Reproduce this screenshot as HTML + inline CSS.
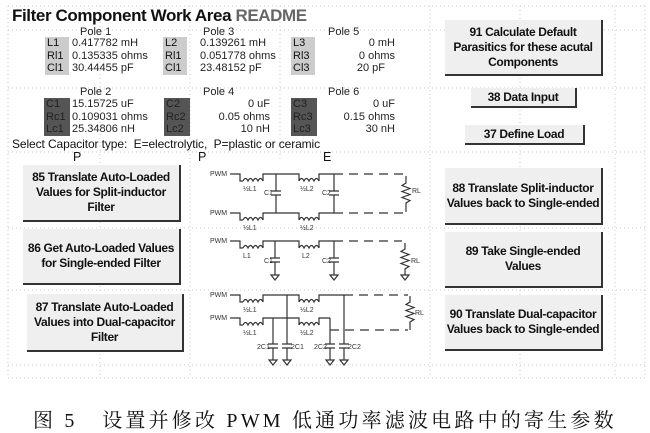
<!DOCTYPE html>
<html><head><meta charset="utf-8"><style>
body{margin:0;width:650px;height:433px;background:#fff;position:relative;overflow:hidden;font-family:"Liberation Sans",sans-serif;color:#111}
.a{position:absolute;white-space:nowrap}
.v{font-size:11px;color:#222}
.lb{position:absolute;width:24px;height:13px;background:#ccc;font-size:11px;line-height:13px;padding-left:2px;box-sizing:border-box}
.db{position:absolute;width:26px;height:13px;background:#555;color:#222;font-size:11px;line-height:13px;padding-left:2px;box-sizing:border-box}
.btn{position:absolute;background:#efefef;border-right:2px solid #333;border-bottom:2px solid #333;box-sizing:border-box;display:flex;align-items:center;justify-content:center;text-align:center;font-weight:bold;font-size:12px;letter-spacing:-0.35px;line-height:15px;color:#111;white-space:nowrap}
</style></head><body>
<svg class="a" style="left:0;top:0" width="650" height="433">
<g stroke="#c8c8c8" stroke-width="1" stroke-dasharray="1 3">
<line x1="8" y1="6" x2="645" y2="6"/><line x1="8" y1="378" x2="645" y2="378"/>
<line x1="8" y1="30" x2="645" y2="30"/><line x1="8" y1="88" x2="645" y2="88"/>
<line x1="8" y1="152" x2="645" y2="152"/><line x1="8" y1="228" x2="645" y2="228"/>
<line x1="8" y1="290" x2="645" y2="290"/><line x1="8" y1="365" x2="645" y2="365"/>
<line x1="8" y1="6" x2="8" y2="378"/><line x1="100" y1="6" x2="100" y2="378"/>
<line x1="190" y1="6" x2="190" y2="378"/><line x1="280" y1="6" x2="280" y2="160"/>
<line x1="430" y1="6" x2="430" y2="378"/><line x1="520" y1="6" x2="520" y2="378"/>
<line x1="615" y1="6" x2="615" y2="378"/><line x1="645" y1="6" x2="645" y2="378"/>
</g>
<g fill="none" stroke="#333" stroke-width="1.2">
<path d="M230 174H240V181H243"/><path d="M243 181q2.5 -5 5 0q2.5 -5 5 0q2.5 -5 5 0q2.5 -5 5 0"/><path d="M263 181V174H299V181"/>
<path d="M299 181q2.5 -5 5 0q2.5 -5 5 0q2.5 -5 5 0q2.5 -5 5 0"/><path d="M319 181V174H334"/>
<path d="M230 213H240V220H243"/><path d="M243 220q2.5 -5 5 0q2.5 -5 5 0q2.5 -5 5 0q2.5 -5 5 0"/><path d="M263 220V213H299V220"/>
<path d="M299 220q2.5 -5 5 0q2.5 -5 5 0q2.5 -5 5 0q2.5 -5 5 0"/><path d="M319 220V213H334"/>
<path d="M276 174V191M276 195V213M271 191H281M271 195H281"/>
<path d="M334 174V191M334 195V213M329 191H339M329 195H339"/>
<path d="M334 174H405M334 213H405" stroke-dasharray="9 6"/>
<path d="M406 176V183l-4 2.5 8 3 -8 3 8 3 -8 3 8 3 -4 2.5V212"/>
<path d="M230 241H240V248H243"/><path d="M243 248q2.5 -5 5 0q2.5 -5 5 0q2.5 -5 5 0q2.5 -5 5 0"/><path d="M263 248V241H299V248"/>
<path d="M299 248q2.5 -5 5 0q2.5 -5 5 0q2.5 -5 5 0q2.5 -5 5 0"/><path d="M319 248V241H334"/>
<path d="M275 241V258M275 262V275M270 258H280M270 262H280M271 275H279L275 280Z"/>
<path d="M334 241V258M334 262V275M329 258H339M329 262H339M330 275H338L334 280Z"/>
<path d="M334 241H402" stroke-dasharray="9 6"/>
<path d="M405 243V249l-4 2.5 8 3 -8 3 8 3 -8 3 8 3 -4 2.5V275M401 275H409L405 280Z"/>
<path d="M230 295H240V302H243"/><path d="M243 302q2.5 -5 5 0q2.5 -5 5 0q2.5 -5 5 0q2.5 -5 5 0"/><path d="M263 302V295H299V302"/>
<path d="M299 302q2.5 -5 5 0q2.5 -5 5 0q2.5 -5 5 0q2.5 -5 5 0"/><path d="M319 302V295H344"/>
<path d="M230 318H240V325H243"/><path d="M243 325q2.5 -5 5 0q2.5 -5 5 0q2.5 -5 5 0q2.5 -5 5 0"/><path d="M263 325V318H299V325"/>
<path d="M299 325q2.5 -5 5 0q2.5 -5 5 0q2.5 -5 5 0q2.5 -5 5 0"/><path d="M319 325V318H330"/>
<path d="M273 318V344M273 348V360M268 344H278M268 348H278M269 360H277L273 365Z"/>
<path d="M287 295V344M287 348V360M282 344H292M282 348H292M283 360H291L287 365Z"/>
<path d="M330 318V344M330 348V360M325 344H335M325 348H335M326 360H334L330 365Z"/>
<path d="M344 295V344M344 348V360M339 344H349M339 348H349M340 360H348L344 365Z"/>
<path d="M344 295H408M330 330H408" stroke-dasharray="9 6"/>
<path d="M410 296V302l-4 2.5 8 3 -8 3 8 3 -8 3 8 3 -4 2.5V330"/>
</g>
<g font-family="Liberation Sans,sans-serif" font-size="7" fill="#333">
<text x="210" y="176">PWM</text><text x="210" y="215">PWM</text><text x="210" y="243">PWM</text><text x="210" y="297">PWM</text><text x="210" y="320">PWM</text>
<text x="243" y="191">½L1</text><text x="300" y="191">½L2</text><text x="243" y="230">½L1</text><text x="300" y="230">½L2</text>
<text x="264" y="195">C1</text><text x="322" y="195">C2</text>
<text x="243" y="258">L1</text><text x="302" y="258">L2</text><text x="264" y="263">C1</text><text x="322" y="263">C2</text>
<text x="243" y="312">½L1</text><text x="300" y="312">½L2</text><text x="243" y="335">½L1</text><text x="300" y="335">½L2</text>
<text x="257" y="349">2C1</text><text x="291" y="349">2C1</text><text x="314" y="349">2C2</text><text x="348" y="349">2C2</text>
<text x="412" y="193">RL</text><text x="411" y="263">RL</text><text x="415" y="315">RL</text>
</g>
</svg>

<div class="a" style="left:12px;top:6px;font-size:17px;letter-spacing:-0.4px;font-weight:bold">Filter Component Work Area <span style="color:#666">README</span></div>

<div class="a v" style="left:80px;top:26px">Pole 1</div><div class="a v" style="left:203px;top:26px">Pole 3</div><div class="a v" style="left:328px;top:26px">Pole 5</div>
<div class="lb" style="left:45px;top:37px">L1</div><div class="lb" style="left:45px;top:50px">Rl1</div><div class="lb" style="left:45px;top:62px">Cl1</div>
<div class="a v" style="left:72px;top:37px">0.417782 mH</div><div class="a v" style="left:72px;top:50px">0.135335 ohms</div><div class="a v" style="left:72px;top:62px">30.44455 pF</div>
<div class="lb" style="left:163px;top:37px">L2</div><div class="lb" style="left:163px;top:50px">Rl1</div><div class="lb" style="left:163px;top:62px">Cl1</div>
<div class="a v" style="left:200px;top:37px">0.139261 mH</div><div class="a v" style="left:200px;top:50px">0.051778 ohms</div><div class="a v" style="left:200px;top:62px">23.48152 pF</div>
<div class="lb" style="left:291px;top:37px">L3</div><div class="lb" style="left:291px;top:50px">Rl3</div><div class="lb" style="left:291px;top:62px">Cl3</div>
<div class="a v" style="right:255px;top:37px">0 mH</div><div class="a v" style="right:255px;top:50px">0 ohms</div><div class="a v" style="right:265px;top:62px">20 pF</div>

<div class="a v" style="left:80px;top:86px">Pole 2</div><div class="a v" style="left:203px;top:86px">Pole 4</div><div class="a v" style="left:328px;top:86px">Pole 6</div>
<div class="db" style="left:44px;top:98px">C1</div><div class="db" style="left:44px;top:111px">Rc1</div><div class="db" style="left:44px;top:123px">Lc1</div>
<div class="a v" style="left:72px;top:98px">15.15725 uF</div><div class="a v" style="left:72px;top:111px">0.109031 ohms</div><div class="a v" style="left:72px;top:123px">25.34806 nH</div>
<div class="db" style="left:164px;top:98px">C2</div><div class="db" style="left:164px;top:111px">Rc2</div><div class="db" style="left:164px;top:123px">Lc2</div>
<div class="a v" style="right:380px;top:98px">0 uF</div><div class="a v" style="right:380px;top:111px">0.05 ohms</div><div class="a v" style="right:380px;top:123px">10 nH</div>
<div class="db" style="left:291px;top:98px">C3</div><div class="db" style="left:291px;top:111px">Rc3</div><div class="db" style="left:291px;top:123px">Lc3</div>
<div class="a v" style="right:255px;top:98px">0 uF</div><div class="a v" style="right:255px;top:111px">0.15 ohms</div><div class="a v" style="right:255px;top:123px">30 nH</div>

<div class="a" style="left:12px;top:137px;font-size:12px;letter-spacing:-0.1px">Select Capacitor type:&nbsp; E=electrolytic,&nbsp; P=plastic or ceramic</div>
<div class="a" style="left:73px;top:150px;font-size:12.5px">P</div><div class="a" style="left:198px;top:150px;font-size:12.5px">P</div><div class="a" style="left:323px;top:150px;font-size:12.5px">E</div>

<div class="btn" style="left:23px;top:165px;width:158px;height:57px">85 Translate Auto-Loaded<br>Values for Split-inductor<br>Filter</div>
<div class="btn" style="left:23px;top:229px;width:158px;height:56px">86 Get Auto-Loaded Values<br>for Single-ended Filter</div>
<div class="btn" style="left:27px;top:294px;width:157px;height:58px">87 Translate Auto-Loaded<br>Values into Dual-capacitor<br>Filter</div>

<div class="btn" style="left:445px;top:20px;width:158px;height:56px">91 Calculate Default<br>Parasitics for these acutal<br>Components</div>
<div class="btn" style="left:471px;top:88px;width:106px;height:20px">38 Data Input</div>
<div class="btn" style="left:465px;top:125px;width:120px;height:20px">37 Define Load</div>
<div class="btn" style="left:445px;top:168px;width:158px;height:57px">88 Translate Split-inductor<br>Values back to Single-ended</div>
<div class="btn" style="left:445px;top:232px;width:158px;height:56px">89 Take Single-ended<br>Values</div>
<div class="btn" style="left:445px;top:295px;width:158px;height:56px">90 Translate Dual-capacitor<br>Values back to Single-ended</div>

<div class="a" style="left:33px;top:404px;font-size:20px;letter-spacing:3.2px;font-family:'Liberation Serif','Noto Serif CJK SC',serif;color:#111">图 5&nbsp;&nbsp; 设置并修改 PWM 低通功率滤波电路中的寄生参数</div>
</body></html>
